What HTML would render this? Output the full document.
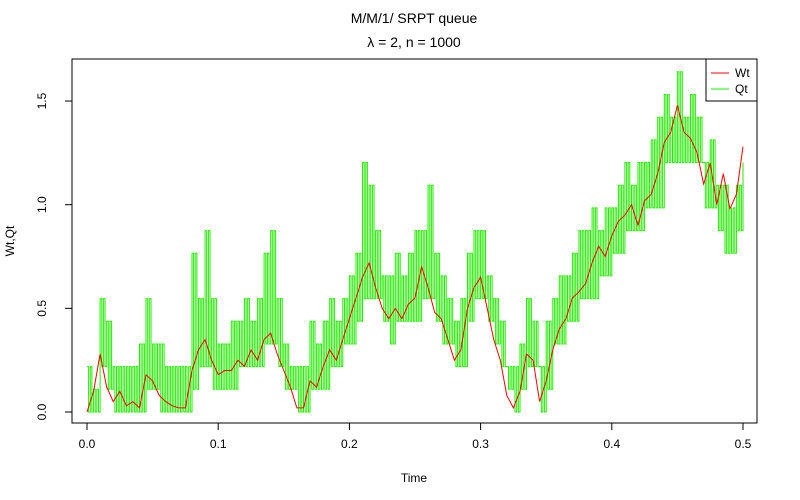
<!DOCTYPE html>
<html><head><meta charset="utf-8"><style>
body{margin:0;background:#fff}
svg{display:block;font-family:"Liberation Sans",Arial,sans-serif}
</style></head><body>
<svg id="chart" width="800" height="500">
<text x="414" y="23" text-anchor="middle" font-size="14">M/M/1/ SRPT queue</text>
<text x="414" y="47" text-anchor="middle" font-size="14">λ = 2, n = 1000</text>
<text x="414" y="482" text-anchor="middle" font-size="12">Time</text>
<text transform="translate(14,241) rotate(-90)" text-anchor="middle" font-size="12">Wt,Qt</text>
<g id="series"></g>
<g id="axes"></g>
<rect x="72" y="59" width="685" height="364" fill="none" stroke="#000"/>
<g>
<rect x="706" y="59" width="51" height="42" fill="#fff" stroke="#000"/>
<line x1="711" y1="73" x2="729" y2="73" stroke="#ff0000"/>
<text x="735" y="77" font-size="12">Wt</text>
<line x1="711" y1="89" x2="729" y2="89" stroke="#00ff00"/>
<text x="735" y="93" font-size="12">Qt</text>
</g>
</svg>
<script>
const xTicks=[0,0.1,0.2,0.3,0.4,0.5];
const xTickLabels=["0.0","0.1","0.2","0.3","0.4","0.5"];
const yTicks=[0,0.5,1,1.5];
const yTickLabels=["0.0","0.5","1.0","1.5"];
const timeStep=0.005;
const qUnit=0.1094;
const wt=[0,0.1,0.28,0.12,0.05,0.1,0.03,0.05,0.02,0.18,0.15,0.08,0.05,0.03,0.02,0.02,0.2,0.3,0.35,0.25,0.18,0.2,0.2,0.25,0.22,0.3,0.25,0.35,0.38,0.28,0.2,0.12,0.02,0.02,0.15,0.12,0.22,0.3,0.25,0.35,0.45,0.55,0.65,0.72,0.6,0.5,0.45,0.5,0.45,0.52,0.55,0.7,0.6,0.48,0.45,0.35,0.25,0.3,0.5,0.6,0.65,0.5,0.35,0.25,0.08,0.02,0.1,0.28,0.25,0.05,0.15,0.3,0.4,0.45,0.55,0.58,0.62,0.72,0.8,0.75,0.85,0.92,0.95,1.0,0.9,1.02,1.05,1.15,1.3,1.35,1.48,1.35,1.32,1.25,1.1,1.2,1.0,1.15,0.98,1.05,1.28];
const qLow=[0,0,2,1,0,0,0,0,0,1,1,0,0,0,0,0,1,2,2,1,1,1,1,2,2,2,2,3,3,2,1,1,0,0,1,1,1,2,2,3,3,4,5,5,5,4,3,4,4,4,4,5,5,4,3,3,2,2,4,5,5,4,3,2,1,0,1,2,2,0,1,3,3,4,4,5,5,5,6,6,7,7,8,8,8,9,9,9,11,11,11,11,11,11,9,9,8,7,7,8,9];
const qHigh=[2,1,5,4,2,2,2,2,3,5,3,3,2,2,2,2,7,5,8,5,3,3,4,4,5,4,5,7,8,5,3,2,2,2,4,3,4,5,4,5,6,7,11,10,8,6,6,7,6,7,8,8,10,7,6,5,4,5,7,8,8,6,5,4,2,2,3,5,4,2,4,5,6,6,7,8,8,9,8,9,9,10,11,10,11,11,12,13,14,13,15,13,14,13,11,12,10,10,9,10,11];
const X=t=>87+t*1312, Y=v=>412-v*207.3;
const NS="http://www.w3.org/2000/svg";
const ax=document.getElementById('axes'), sr=document.getElementById('series');
function mk(tag,attrs,parent){const e=document.createElementNS(NS,tag);for(const k in attrs)e.setAttribute(k,attrs[k]);parent.appendChild(e);return e;}
const xa=mk('line',{x1:X(xTicks[0]),x2:X(xTicks[xTicks.length-1]),y1:423,y2:423,stroke:'#000'},ax);


xTicks.forEach((t,i)=>{
 const tk=mk('line',{x1:X(t),x2:X(t),y1:423,y2:430,stroke:'#000'},ax);
 
 
 const tx=mk('text',{x:X(t),y:448,'text-anchor':'middle','font-size':12},ax);
 tx.textContent=xTickLabels[i];
 
 
});
yTicks.forEach((v,i)=>{
 const tk=mk('line',{x1:65,x2:72,y1:Y(v),y2:Y(v),stroke:'#000'},ax);
 
 
 const tx=mk('text',{transform:`translate(46,${Y(v)}) rotate(-90)`,'text-anchor':'middle','font-size':12},ax);
 tx.textContent=yTickLabels[i];
 
 
});
const ya=mk('line',{x1:72,x2:72,y1:Y(yTicks[0]),y2:Y(yTicks[yTicks.length-1]),stroke:'#000'},ax);


// Qt step path
let d='';const K=4;
for(let i=0;i<qLow.length;i++){
 const t0=i*timeStep, t1=(i===qLow.length-1)?t0:(i+1)*timeStep;
 const span=(t1-t0)/K;
 for(let k=0;k<K;k++){
  const lv=(k%2===0?qHigh[i]:qLow[i])*qUnit;
  const ta=t0+k*span, tb=t0+(k+1)*span;
  d+=(d?'L':'M')+X(ta).toFixed(1)+','+Y(lv).toFixed(1)+'L'+X(tb).toFixed(1)+','+Y(lv).toFixed(1);
 }
}
const qp=mk('path',{d:d,fill:'none',stroke:'#22ee00','stroke-width':1},sr);


const wp=mk('polyline',{points:wt.map((v,i)=>X(i*timeStep).toFixed(1)+','+Y(v).toFixed(1)).join(' '),fill:'none',stroke:'#ff0000','stroke-width':1},sr);


</script>
</body></html>
